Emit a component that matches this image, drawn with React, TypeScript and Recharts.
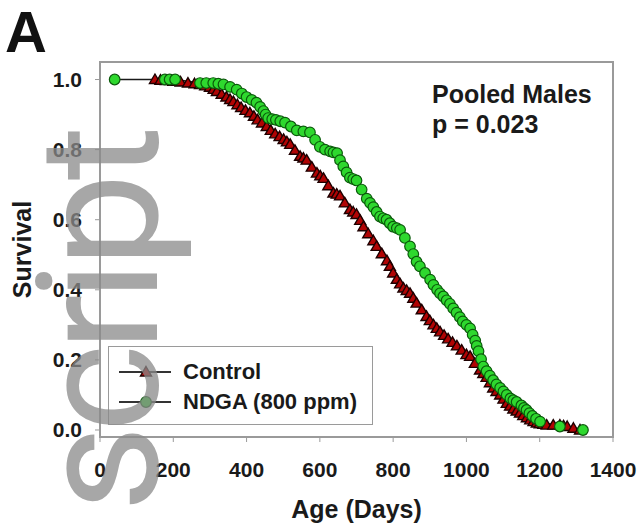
import { Legend, Line, LineChart, ReferenceArea, XAxis, YAxis } from "recharts";

// Kaplan-Meier points (age in days, fraction surviving)
const controlAge = [
  150, 165, 180, 200, 220, 240, 258, 273, 287, 300, 310, 319, 332, 345, 355, 364, 375, 385, 397,
  409, 420, 430, 442, 455, 466, 478, 490, 501, 510, 519, 532, 546, 555, 564, 578, 592, 601, 610,
  623, 637, 646, 655, 668, 682, 691, 700, 710, 719, 732, 746, 755, 769, 783, 791, 800, 810, 819,
  828, 837, 846, 855, 864, 878, 891, 900, 910, 919, 928, 939, 950, 962, 974, 987, 1000, 1010,
  1023, 1037, 1046, 1055, 1064, 1073, 1082, 1092, 1101, 1110, 1119, 1128, 1137, 1146, 1155, 1165,
  1174, 1183, 1192, 1200, 1210, 1219, 1237, 1255, 1265, 1275, 1292, 1310,
];
const controlSurvival = [
  1.0, 0.998, 0.997, 0.995, 0.993, 0.99, 0.988, 0.986, 0.982, 0.978, 0.972, 0.966, 0.958, 0.95,
  0.943, 0.937, 0.928, 0.92, 0.912, 0.905, 0.895, 0.885, 0.876, 0.866, 0.855, 0.845, 0.837, 0.829,
  0.822, 0.815, 0.798, 0.781, 0.776, 0.77, 0.75, 0.733, 0.725, 0.718, 0.697, 0.676, 0.673, 0.668,
  0.648, 0.629, 0.622, 0.615, 0.598, 0.58, 0.56, 0.54, 0.524, 0.503, 0.483, 0.467, 0.448, 0.43,
  0.417, 0.405, 0.398, 0.39, 0.376, 0.362, 0.343, 0.324, 0.312, 0.3, 0.29, 0.28, 0.27, 0.26, 0.25,
  0.24, 0.228, 0.215, 0.21, 0.19, 0.171, 0.161, 0.15, 0.135, 0.12, 0.11, 0.1, 0.088, 0.076, 0.068,
  0.06, 0.054, 0.048, 0.041, 0.035, 0.029, 0.024, 0.02, 0.018, 0.016, 0.014, 0.014, 0.014, 0.012,
  0.01, 0.005, 0.0,
];

const ndgaAge = [
  40, 177, 190, 205, 273, 290, 309, 323, 337, 355, 373, 387, 400, 414, 427, 437, 446, 452, 459,
  470, 480, 492, 505, 521, 537, 555, 573, 587, 600, 614, 628, 637, 647, 655, 664, 673, 682, 691,
  700, 714, 728, 737, 746, 755, 764, 773, 782, 791, 800, 810, 819, 832, 846, 855, 864, 873, 887,
  901, 910, 920, 928, 937, 946, 955, 964, 973, 982, 990, 1000, 1010, 1017, 1024, 1028, 1033, 1040,
  1046, 1055, 1064, 1073, 1082, 1092, 1101, 1110, 1120, 1128, 1137, 1150, 1157, 1164, 1172, 1180,
  1190, 1201, 1255, 1318,
];
const ndgaSurvival = [
  1.0, 1.0, 1.0, 1.0, 0.99, 0.99, 0.99, 0.988, 0.986, 0.979, 0.971, 0.96, 0.95, 0.942, 0.934,
  0.922, 0.91, 0.9, 0.89, 0.887, 0.885, 0.881, 0.877, 0.866, 0.855, 0.852, 0.849, 0.828, 0.808,
  0.8, 0.795, 0.792, 0.79, 0.77, 0.752, 0.735, 0.72, 0.716, 0.712, 0.686, 0.66, 0.648, 0.636,
  0.622, 0.609, 0.604, 0.6, 0.59, 0.58, 0.576, 0.571, 0.548, 0.524, 0.502, 0.48, 0.467, 0.448,
  0.429, 0.414, 0.4, 0.39, 0.381, 0.37, 0.36, 0.347, 0.335, 0.322, 0.31, 0.3, 0.29, 0.272, 0.255,
  0.24, 0.225, 0.202, 0.181, 0.168, 0.155, 0.142, 0.13, 0.12, 0.11, 0.1, 0.09, 0.085, 0.08, 0.07,
  0.063, 0.057, 0.048, 0.04, 0.032, 0.024, 0.01, 0.0,
];

const xTicks = [0, 200, 400, 600, 800, 1000, 1200, 1400];
const yTicks = [0, 0.2, 0.4, 0.6, 0.8, 1.0];

const controlData = controlAge.map((age, i) => ({ age, survival: controlSurvival[i] }));
const ndgaData = ndgaAge.map((age, i) => ({ age, survival: ndgaSurvival[i] }));

const font = "'Liberation Sans', Arial, sans-serif";
const frameGray = "#9a9a9a";

function Triangle({ cx, cy }: any) {
  if (cx == null || cy == null) return null;
  return (
    <polygon
      points={`${cx},${cy - 5.5} ${cx + 5.5},${cy + 4} ${cx - 5.5},${cy + 4}`}
      fill="#b00404"
      stroke="#1e0000"
      strokeWidth={1.4}
    />
  );
}

function Circle({ cx, cy }: any) {
  if (cx == null || cy == null) return null;
  return <circle cx={cx} cy={cy} r={5.3} fill="#2ed82e" stroke="#0b5a0b" strokeWidth={1.2} />;
}

function SurvivalLegend({ payload }: any) {
  return (
    <div
      style={{
        boxSizing: "border-box",
        width: 265,
        height: 79,
        border: `1.5px solid ${frameGray}`,
        background: "#fff",
        padding: "10px 0 0 10px",
      }}
    >
      {(payload ?? []).map((entry: any) => (
        <div
          key={entry.value}
          style={{ display: "flex", alignItems: "center", height: 30, fontFamily: font }}
        >
          <svg width={56} height={20}>
            <line x1={0} y1={10} x2={52} y2={10} stroke="#333" strokeWidth={2} />
            {entry.value === "Control" ? <Triangle cx={27} cy={10} /> : <Circle cx={27} cy={10} />}
          </svg>
          <span style={{ marginLeft: 8, fontSize: 22, fontWeight: 700, color: "#1a1a1a" }}>
            {entry.value}
          </span>
        </div>
      ))}
    </div>
  );
}

export default function App() {
  return (
    <div style={{ position: "relative", width: 638, height: 529, background: "#fff" }}>
      <style>{"body{margin:0}"}</style>
      <LineChart width={638} height={529} margin={{ top: 62, right: 25, bottom: 0, left: 0 }}>
        <XAxis
          dataKey="age"
          type="number"
          domain={[0, 1400]}
          ticks={xTicks}
          height={92}
          tickSize={5}
          tickMargin={20}
          axisLine={{ stroke: frameGray, strokeWidth: 2 }}
          tickLine={{ stroke: frameGray }}
          tick={{ fontSize: 21, fontWeight: 700, fill: "#1a1a1a", fontFamily: font }}
          label={{
            value: "Age (Days)",
            position: "insideBottom",
            offset: 11,
            style: { fontSize: 25, fontWeight: 700, fill: "#1a1a1a", fontFamily: font },
          }}
        />
        <YAxis
          dataKey="survival"
          type="number"
          domain={[-0.02, 1.05]}
          allowDataOverflow
          ticks={yTicks}
          width={100}
          tickSize={5}
          tickMargin={13}
          tickFormatter={(v: number) => v.toFixed(1)}
          axisLine={{ stroke: frameGray, strokeWidth: 2 }}
          tickLine={{ stroke: frameGray }}
          tick={{ fontSize: 21, fontWeight: 700, fill: "#1a1a1a", fontFamily: font }}
          label={{
            value: "Survival",
            angle: -90,
            position: "insideLeft",
            offset: 22,
            style: {
              textAnchor: "middle",
              fontSize: 25,
              fontWeight: 700,
              fill: "#1a1a1a",
              fontFamily: font,
            },
          }}
        />
        <ReferenceArea
          x1={0}
          x2={1400}
          y1={-0.02}
          y2={1.05}
          fill="none"
          stroke={frameGray}
          strokeWidth={2}
          ifOverflow="visible"
        />
        <Line
          data={controlData}
          dataKey="survival"
          name="Control"
          type="linear"
          stroke="#2a0808"
          strokeWidth={1.6}
          dot={<Triangle />}
          activeDot={false}
          isAnimationActive={false}
        />
        <Line
          data={ndgaData}
          dataKey="survival"
          name="NDGA (800 ppm)"
          type="linear"
          stroke="#1a1a1a"
          strokeWidth={1.6}
          dot={<Circle />}
          activeDot={false}
          isAnimationActive={false}
        />
        <Legend
          layout="vertical"
          align="center"
          verticalAlign="middle"
          content={<SurvivalLegend />}
          wrapperStyle={{ left: 108, top: 346, width: 265, height: 79 }}
        />
      </LineChart>
      <svg
        width={638}
        height={529}
        style={{ position: "absolute", left: 0, top: 0, pointerEvents: "none" }}
      >
        <text x={5} y={52} fontFamily={font} fontWeight={700} fontSize={58} fill="#111">
          A
        </text>
        <text x={432} y={103} fontFamily={font} fontWeight={700} fontSize={25} fill="#1a1a1a">
          Pooled Males
        </text>
        <text x={432} y={133} fontFamily={font} fontWeight={700} fontSize={25} fill="#1a1a1a">
          p = 0.023
        </text>
        <text
          transform="translate(157, 512) rotate(-90)"
          fontFamily="Roboto, 'Liberation Sans', sans-serif"
          fontWeight={400}
          fontSize={168}
          letterSpacing={-7}
          fill="#8a8a8a"
          opacity={0.75}
        >
          script
        </text>
      </svg>
    </div>
  );
}
